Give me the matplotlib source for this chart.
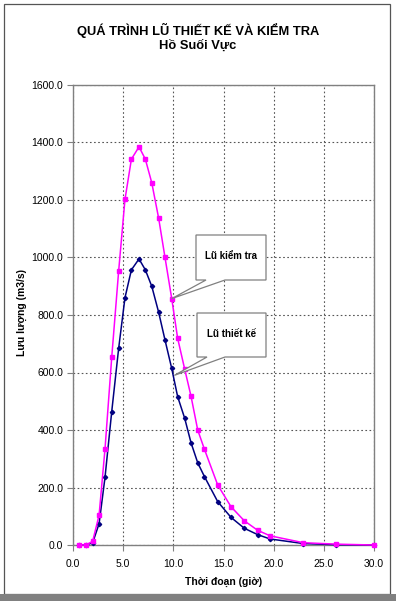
import matplotlib
matplotlib.use("Agg")
import matplotlib.pyplot as plt
from matplotlib.patches import Polygon, Rectangle

plt.rcParams['font.family'] = ['Liberation Sans', 'DejaVu Sans']

# ---- data ----
time_h = [0.6, 1.3, 1.96, 2.6, 3.19, 3.86, 4.55, 5.18, 5.82, 6.58, 7.21, 7.85, 8.54, 9.17,
          9.84, 10.43, 11.13, 11.76, 12.43, 13.1, 14.42, 15.75, 17.08, 18.41, 19.64,
          22.96, 26.2, 30.0]
q_thiet_ke = [0, 0, 8, 74, 235, 464, 684, 860, 957, 995, 957, 900, 809, 713,
              614, 516, 441, 356, 286, 238, 151, 96, 58, 36, 21, 5, 1, 0]
q_kiem_tra = [0, 0, 13, 104, 334, 653, 953, 1202, 1342, 1385, 1342, 1260, 1136, 1000,
              857, 719, 612, 518, 400, 333, 209, 133, 84, 51, 32, 8, 3, 0]
x_ticks = [0, 5, 10, 15, 20, 25, 30]
y_ticks = [0, 200, 400, 600, 800, 1000, 1200, 1400, 1600]

title = "QUÁ TRÌNH LŨ THIẾT KẾ VÀ KIỂM TRA"
subtitle = "Hồ Suối Vực"
xlabel = "Thời đoạn (giờ)"
ylabel = "Lưu lượng (m3/s)"
label_kt = "Lũ kiểm tra"
label_tk = "Lũ thiết kế"

W, H = 396, 601
fig = plt.figure(figsize=(W / 100, H / 100), dpi=100)
fig.patch.set_facecolor('white')

# outer frame
fig.add_artist(Rectangle((4 / W, 1 - 594 / H), 386 / W, 590 / H, transform=fig.transFigure,
                         fill=False, edgecolor='#555555', lw=0.9))
fig.add_artist(Rectangle((0, 0), 1, 7 / H, transform=fig.transFigure,
                         facecolor='#808080', edgecolor='none'))

ax = fig.add_axes([73 / W, 1 - 545 / H, (374 - 73) / W, (545 - 85) / H])
ax.set_xlim(0, 30)
ax.set_ylim(0, 1600)
ax.set_xticks(x_ticks)
ax.set_yticks(y_ticks)
ax.set_xticklabels([f"{v:.1f}" for v in x_ticks])
ax.set_yticklabels([f"{v:.1f}" for v in y_ticks])
ax.tick_params(axis='both', direction='out', length=4, width=0.8, color='#808080',
               labelsize=7.5)
ax.tick_params(axis='x', pad=6)
ax.tick_params(axis='y', pad=3)
for s in ax.spines.values():
    s.set_color('#808080')
    s.set_linewidth(1.0)
ax.grid(True, linestyle=(0, (1.5, 2.2)), color='#555555', linewidth=0.8)
ax.set_axisbelow(True)

ax.plot(time_h, q_thiet_ke, color='#000080', lw=1.1, marker='D', markersize=2.2,
        zorder=3, clip_on=False)
ax.plot(time_h, q_kiem_tra, color='#FF00FF', lw=1.1, marker='s', markersize=2.6,
        zorder=4, clip_on=False)

# callouts (box + wedge)
def px2d(px, py):
    return ((px - 73) / (374 - 73) * 30, (545 - py) / (545 - 85) * 1600)

def callout(x0, y0, x1, y1, b0, b1, tip, text):
    pts = [px2d(x0, y0), px2d(x1, y0), px2d(x1, y1), px2d(b1, y1), tip,
           px2d(b0, y1), px2d(x0, y1)]
    ax.add_patch(Polygon(pts, closed=True, facecolor='white', edgecolor='#808080',
                         lw=0.9, zorder=6, clip_on=False))
    cx, cy = px2d((x0 + x1) / 2, (y0 + y1) / 2 - 1)
    ax.text(cx, cy, text, ha='center', va='center', fontsize=7, fontweight='bold',
            zorder=7)

callout(196, 235, 266, 280, 206, 225, (9.84, 857), label_kt)
callout(197, 313, 266, 357, 207, 225, (10.1, 590), label_tk)

fig.text(0.5, 1 - 30 / H, title, ha='center', va='center', fontsize=9.3, fontweight='bold')
fig.text(0.5, 1 - 46 / H, subtitle, ha='center', va='center', fontsize=9.3, fontweight='bold')
fig.text(224 / W, 1 - 582 / H, xlabel, ha='center', va='center', fontsize=7.5,
         fontweight='bold')
fig.text(22 / W, 1 - 313 / H, ylabel, ha='center', va='center', fontsize=7.5,
         fontweight='bold', rotation=90)

fig.savefig("out.png", dpi=100)
